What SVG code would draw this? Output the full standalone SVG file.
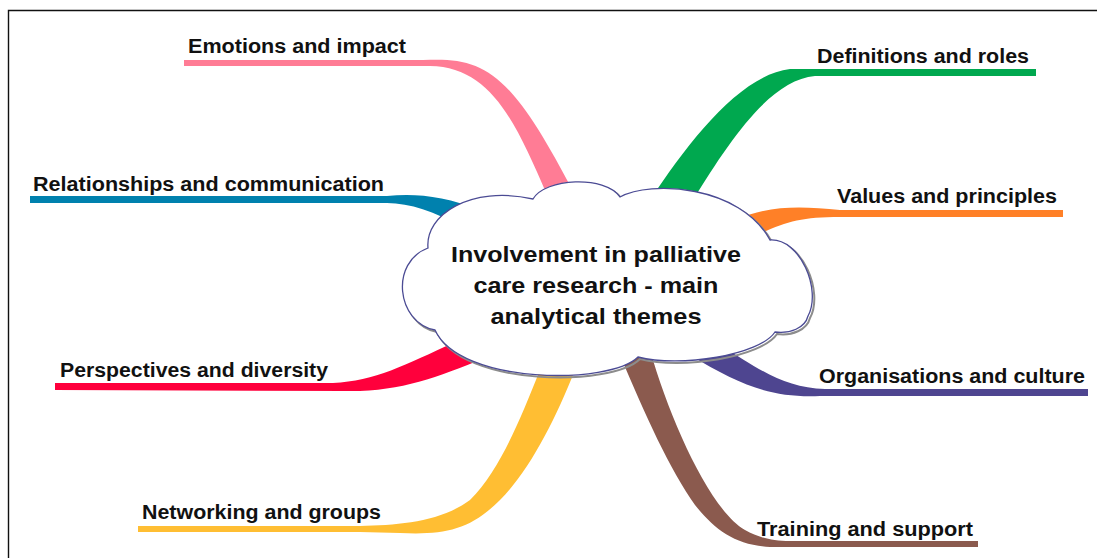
<svg xmlns="http://www.w3.org/2000/svg" width="1097" height="558" viewBox="0 0 1097 558">
<style>
.lbl{font-family:"Liberation Sans",Arial,sans-serif;font-weight:bold;font-size:19.5px;fill:#111}
.ctr{font-family:"Liberation Sans",Arial,sans-serif;font-weight:bold;font-size:22.5px;fill:#111;text-anchor:middle}
.frame{stroke:#111;stroke-width:1.4;fill:none}
</style>
<defs>
<path id="cloudShape" d="M428,248 C425,215 470,185 533,199 C545,178 605,175 620,197 C650,180 740,185 770,240 C800,238 822,290 808,316 C805,328 790,334 775,332 C760,355 680,368 638,357 C610,385 460,385 435,330 C396,322 390,262 428,248 Z"/>
</defs>
<rect width="1097" height="558" fill="#fff"/>
<path class="frame" d="M8.5,558 L8.5,10.5 L1097,10.5"/>
<g id="connectors">
<path id="c-emotions" fill="#FF7C95" d="M184,60 L423,60 C485,57 510,70 575,195 L547,195 C515,120 490,67 430,66 L184,66 Z"/>
<path id="c-relationships" fill="#0081AE" d="M30,196 L387,196 C415,193 445,196 480,210 L460,226 C435,212 410,203 387,203 L30,203 Z"/>
<path id="c-perspectives" fill="#FF003C" d="M55,383 L333,383 C375,381 405,365 455,342 L485,358 C435,378 400,392 345,391 L55,390 Z"/>
<path id="c-networking" fill="#FFBE33" d="M138,526 L360,526 C400,525 440,522 470,500 C500,470 520,420 540,370 L575,370 C555,420 530,470 500,500 C470,530 445,535 400,533 L360,532 L138,532 Z"/>
<path id="c-training" fill="#8B5A4E" d="M650,350 C670,420 710,510 745,530 C758,537 770,541 790,541 L978,541 L978,547 L770,547 C735,545 715,530 695,505 C670,470 645,415 620,355 Z"/>
<path id="c-organisations" fill="#4E4590" d="M720,345 C760,370 785,388 825,389 L1088,389 L1088,396 L820,396 C770,398 740,385 690,355 Z"/>
<path id="c-values" fill="#FF8027" d="M735,220 C770,205 800,206 840,210 L1063,210 L1063,217 L840,217 C800,217 785,222 755,236 Z"/>
<path id="c-definitions" fill="#00A84F" d="M650,200 C690,140 740,75 790,69 L1036,69 L1036,76 L815,76 C770,80 730,140 693,200 Z"/>
</g>
<g id="center">
<use href="#cloudShape" transform="translate(2,2)" fill="none" stroke="#8c8c8c" stroke-width="2"/>
<use href="#cloudShape" fill="#fff" stroke="#4B4B94" stroke-width="1.3"/>
<text class="ctr" x="596" y="262" textLength="290" lengthAdjust="spacingAndGlyphs">Involvement in palliative</text>
<text class="ctr" x="596" y="293" textLength="245" lengthAdjust="spacingAndGlyphs">care research - main</text>
<text class="ctr" x="596" y="324" textLength="211" lengthAdjust="spacingAndGlyphs">analytical themes</text>
</g>
<g id="n-emotions"><text class="lbl" x="188" y="53" textLength="218" lengthAdjust="spacingAndGlyphs">Emotions and impact</text></g>
<g id="n-relationships"><text class="lbl" x="33" y="191" textLength="351" lengthAdjust="spacingAndGlyphs">Relationships and communication</text></g>
<g id="n-perspectives"><text class="lbl" x="60" y="377" textLength="268" lengthAdjust="spacingAndGlyphs">Perspectives and diversity</text></g>
<g id="n-networking"><text class="lbl" x="142" y="519" textLength="239" lengthAdjust="spacingAndGlyphs">Networking and groups</text></g>
<g id="n-definitions"><text class="lbl" x="817" y="63" textLength="212" lengthAdjust="spacingAndGlyphs">Definitions and roles</text></g>
<g id="n-values"><text class="lbl" x="837" y="203" textLength="220" lengthAdjust="spacingAndGlyphs">Values and principles</text></g>
<g id="n-organisations"><text class="lbl" x="819" y="383" textLength="266" lengthAdjust="spacingAndGlyphs">Organisations and culture</text></g>
<g id="n-training"><text class="lbl" x="757" y="536" textLength="216" lengthAdjust="spacingAndGlyphs">Training and support</text></g>
</svg>
